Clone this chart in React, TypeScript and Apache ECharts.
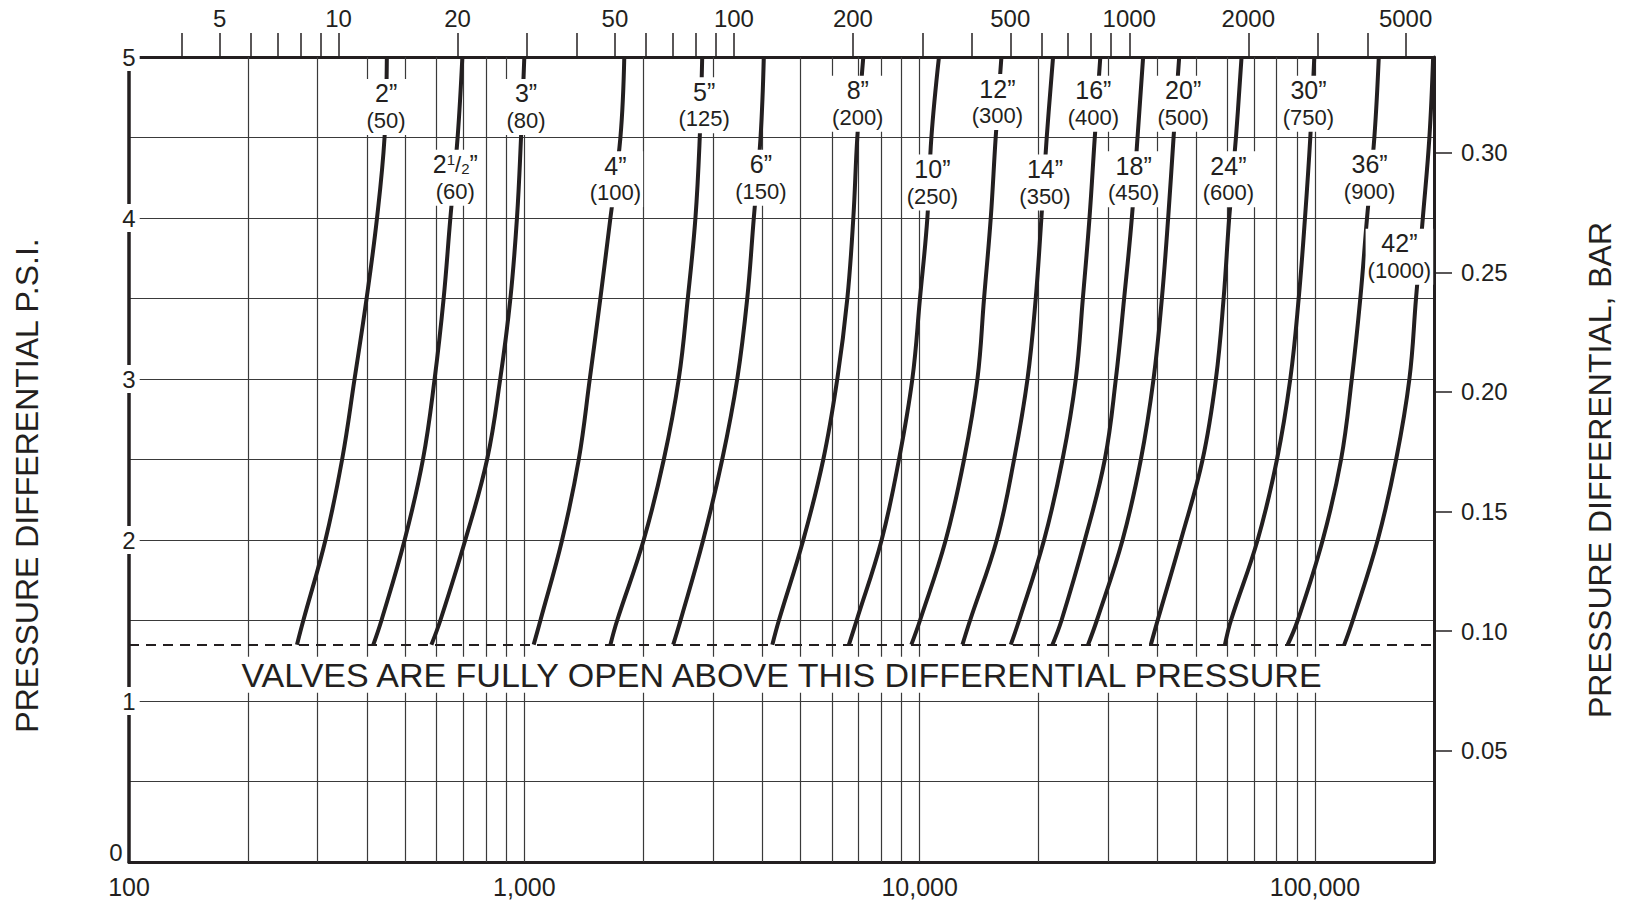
import React, { useEffect, useRef } from 'react';
import * as echarts from 'echarts';

const FONT = '"Liberation Sans", Arial, Helvetica, sans-serif';
const INK = '#231f20';
const GRID_INK = '#3a3a3a';

// Bottom axis range (flow, log scale) and top axis unit ratio
const FLOW_MIN = 100;
const FLOW_MAX = 200000;
const TOP_UNIT_RATIO = 33.9;

// Pressure differential (psi) at which each curve was read
const PSI_POINTS = [5, 4.5, 4, 3.5, 3, 2.5, 2, 1.5, 1.35];

// Flow at PSI_POINTS
const FLOW_2 = [449, 443, 424, 399, 372, 346, 314, 276, 266];
const FLOW_2_5 = [697, 678, 650, 625, 593, 554, 498, 435, 415];
const FLOW_3 = [1000, 981, 958, 922, 869, 805, 709, 613, 582];
const FLOW_4 = [1790, 1750, 1651, 1557, 1464, 1373, 1246, 1098, 1056];
const FLOW_5 = [2818, 2778, 2709, 2591, 2458, 2253, 2004, 1717, 1651];
const FLOW_6 = [4035, 3958, 3806, 3663, 3456, 3166, 2834, 2483, 2380];
const FLOW_8 = [7202, 6954, 6795, 6562, 6189, 5704, 5077, 4404, 4240];
const FLOW_10 = [11190, 10706, 10459, 10018, 9583, 8864, 8013, 6926, 6623];
const FLOW_12 = [16100, 15570, 15130, 14550, 14000, 12950, 11640, 10018, 9528];
const FLOW_14 = [21750, 20960, 20320, 19660, 18740, 17330, 15670, 13410, 12830];
const FLOW_16 = [28640, 27730, 26890, 25870, 24830, 22980, 20640, 17840, 17000];
const FLOW_18 = [36750, 35570, 34410, 32900, 31350, 29400, 26170, 22840, 21670];
const FLOW_20 = [45340, 43880, 42520, 40990, 39050, 36270, 32600, 28060, 26670];
const FLOW_24 = [65200, 63100, 60670, 58730, 56150, 51970, 45790, 39980, 38440];
const FLOW_30 = [99590, 97300, 94340, 90940, 86600, 80130, 71590, 61280, 59180];
const FLOW_36 = [145000, 141300, 135400, 130200, 123900, 116400, 104600, 90400, 85300];
const FLOW_42 = [199000, 194700, 187400, 180100, 173300, 160400, 144100, 124600, 118600];

const VALVE_SIZES = ['2”', '2½”', '3”', '4”', '5”', '6”', '8”', '10”', '12”', '14”', '16”', '18”', '20”', '24”', '30”', '36”', '42”'];
const VALVE_METRIC = ['(50)', '(60)', '(80)', '(100)', '(125)', '(150)', '(200)', '(250)', '(300)', '(350)', '(400)', '(450)', '(500)', '(600)', '(750)', '(900)', '(1000)'];
const VALVE_FLOWS = [FLOW_2, FLOW_2_5, FLOW_3, FLOW_4, FLOW_5, FLOW_6, FLOW_8, FLOW_10, FLOW_12, FLOW_14, FLOW_16, FLOW_18, FLOW_20, FLOW_24, FLOW_30, FLOW_36, FLOW_42];

// Where each size label sits (flow, psi)
const LABEL_FLOW = [447, 669, 1010, 1700, 2850, 3968, 6973, 10770, 15730, 20750, 27500, 34780, 46400, 60390, 96270, 137400, 163500];
const LABEL_PSI = [4.69, 4.25, 4.69, 4.24, 4.7, 4.25, 4.71, 4.22, 4.72, 4.22, 4.71, 4.24, 4.71, 4.24, 4.71, 4.25, 3.76];

// Vertical grid lines on the flow axis
const FLOW_GRID_VALUES = [
  200, 300, 400, 500, 600, 700, 800, 900, 1000,
  2000, 3000, 4000, 5000, 6000, 7000, 8000, 9000, 10000,
  20000, 30000, 40000, 50000, 60000, 70000, 80000, 90000, 100000,
];

// Top axis (other flow unit)
const TOP_TICK_VALUES = [4, 5, 6, 7, 8, 9, 10, 20, 30, 40, 50, 60, 70, 80, 90, 100, 200, 300, 400, 500, 600, 700, 800, 900, 1000, 2000, 3000, 4000, 5000];
const TOP_LABEL_VALUES = [5, 10, 20, 50, 100, 200, 500, 1000, 2000, 5000];

// Left axis (psi) and right axis (bar)
const PSI_TICK_LABELS = [0, 1, 2, 3, 4, 5];
const BAR_TICK_VALUES = [0.05, 0.1, 0.15, 0.2, 0.25, 0.3];
const BAR_AT_PSI_0 = 0.0034;
const BAR_AT_PSI_5 = 0.3401;

const OPEN_PSI = 1.35;
const OPEN_NOTE = 'VALVES ARE FULLY OPEN ABOVE THIS DIFFERENTIAL PRESSURE';

function sizeRich(s: string): string {
  if (s.indexOf('½') >= 0) {
    const [whole, rest] = s.split('½');
    return `{a|${whole}}{s|1}{f|/}{u|2}{a|${rest}}`;
  }
  return `{a|${s}}`;
}

function buildOption(): any {
  const curveSeries = VALVE_FLOWS.map((flows, idx) => {
    const s: any = {
      type: 'line',
      name: VALVE_SIZES[idx],
      xAxisIndex: 0,
      yAxisIndex: 0,
      data: PSI_POINTS.map((p, i) => [flows[i], p]),
      showSymbol: false,
      symbol: 'none',
      smooth: 0.4,
      silent: true,
      z: 3,
      lineStyle: { color: INK, width: 4 },
      emphasis: { disabled: true },
    };
    if (idx === 0) {
      s.markLine = {
        silent: true,
        symbol: ['none', 'none'],
        lineStyle: { type: [10, 7], width: 2.2, color: INK },
        label: {
          show: true,
          position: 'insideMiddleBottom',
          formatter: OPEN_NOTE,
          fontSize: 34,
          lineHeight: 31,
          fontFamily: FONT,
          color: INK,
          backgroundColor: '#fff',
          padding: [3, 8, 2, 8],
          distance: 12,
        },
        emphasis: { disabled: true },
        data: [{ yAxis: OPEN_PSI }],
      };
    }
    return s;
  });

  const gridLines = {
    type: 'lines',
    coordinateSystem: 'cartesian2d',
    xAxisIndex: 0,
    yAxisIndex: 0,
    silent: true,
    z: 1,
    lineStyle: { color: GRID_INK, width: 1.2, opacity: 1 },
    data: FLOW_GRID_VALUES.map((v) => ({ coords: [[v, 0], [v, 5]] })),
  };

  const labelSeries = {
    type: 'scatter',
    xAxisIndex: 0,
    yAxisIndex: 0,
    silent: true,
    z: 4,
    symbolSize: 1,
    itemStyle: { color: 'rgba(0,0,0,0)', opacity: 1 },
    data: VALVE_SIZES.map((size, i) => ({
      value: [LABEL_FLOW[i], LABEL_PSI[i]],
      size,
      metric: VALVE_METRIC[i],
    })),
    label: {
      show: true,
      position: 'inside',
      color: INK,
      opacity: 1,
      fontFamily: FONT,
      backgroundColor: '#fff',
      padding: [1, 2],
      formatter: (p: any) => `${sizeRich(p.data.size)}\n{b|${p.data.metric}}`,
      rich: {
        a: { fontSize: 25, lineHeight: 27, color: INK, fontFamily: FONT },
        f: { fontSize: 22, lineHeight: 27, color: INK, fontFamily: FONT },
        s: { fontSize: 15, lineHeight: 27, color: INK, fontFamily: FONT, padding: [0, 0, 9, 0] },
        u: { fontSize: 15, lineHeight: 27, color: INK, fontFamily: FONT, padding: [9, 0, 0, 0] },
        b: { fontSize: 22, lineHeight: 27, color: INK, fontFamily: FONT },
      },
    },
    emphasis: { disabled: true },
  };

  return {
    animation: false,
    backgroundColor: '#fff',
    textStyle: { fontFamily: FONT, color: INK },
    grid: { left: 129, right: 191, top: 57, bottom: 40, containLabel: false, outerBoundsMode: 'none' },
    xAxis: [
      {
        type: 'log',
        logBase: 10,
        min: FLOW_MIN,
        max: FLOW_MAX,
        position: 'bottom',
        axisLine: { show: true, onZero: false, lineStyle: { color: INK, width: 3 } },
        axisTick: { show: false },
        axisLabel: {
          fontSize: 25,
          color: INK,
          margin: 12,
          showMaxLabel: false,
          formatter: (v: number) => Math.round(v).toLocaleString('en-US'),
        },
        splitLine: { show: false },
      },
      {
        type: 'value',
        position: 'top',
        min: Math.log10(FLOW_MIN / TOP_UNIT_RATIO),
        max: Math.log10(FLOW_MAX / TOP_UNIT_RATIO),
        axisLine: { show: true, onZero: false, lineStyle: { color: INK, width: 3 } },
        axisTick: {
          show: true,
          customValues: TOP_TICK_VALUES.map((v) => Math.log10(v)),
          length: 24,
          lineStyle: { color: INK, width: 1.5 },
        },
        axisLabel: {
          customValues: TOP_LABEL_VALUES.map((v) => Math.log10(v)),
          margin: 27,
          fontSize: 24,
          color: INK,
          formatter: (v: number) => String(Math.round(Math.pow(10, v))),
        },
        splitLine: { show: false },
      },
    ],
    yAxis: [
      {
        type: 'value',
        min: 0,
        max: 5,
        interval: 0.5,
        position: 'left',
        axisLine: { show: true, onZero: false, lineStyle: { color: INK, width: 3.5 } },
        axisTick: { show: false },
        axisLabel: {
          customValues: PSI_TICK_LABELS,
          margin: 0,
          align: 'center',
          fontSize: 24,
          color: INK,
          formatter: (v: number) => (v === 0 ? '{z|0}' : `{n|${v}}`),
          rich: {
            n: { backgroundColor: '#fff', padding: [2, 4], fontSize: 24, color: INK, fontFamily: FONT },
            z: { padding: [0, 26, 20, 0], fontSize: 24, color: INK, fontFamily: FONT },
          },
        },
        splitLine: { show: true, lineStyle: { color: GRID_INK, width: 1.2 } },
        name: 'PRESSURE DIFFERENTIAL P.S.I.',
        nameLocation: 'middle',
        nameRotate: 90,
        nameGap: 86,
        nameTextStyle: { fontSize: 32, color: INK, fontFamily: FONT, padding: [0, 52, 0, 0] },
      },
      {
        type: 'value',
        position: 'right',
        min: BAR_AT_PSI_0,
        max: BAR_AT_PSI_5,
        axisLine: { show: true, onZero: false, lineStyle: { color: INK, width: 3 } },
        axisTick: {
          show: true,
          customValues: BAR_TICK_VALUES,
          length: 18,
          lineStyle: { color: INK, width: 1.5 },
        },
        axisLabel: {
          customValues: BAR_TICK_VALUES,
          margin: 27,
          fontSize: 24,
          color: INK,
          formatter: (v: number) => v.toFixed(2),
        },
        splitLine: { show: false },
        name: 'PRESSURE DIFFERENTIAL, BAR',
        nameLocation: 'middle',
        nameRotate: 90,
        nameGap: 150,
        nameTextStyle: { fontSize: 32, color: INK, fontFamily: FONT, padding: [0, 21, 0, 0] },
      },
    ],
    series: [gridLines, ...curveSeries, labelSeries],
  };
}

export default function App() {
  const ref = useRef<HTMLDivElement>(null);
  useEffect(() => {
    document.body.style.margin = '0';
    const chart = echarts.init(ref.current as HTMLDivElement, null, { renderer: 'svg' });
    chart.setOption(buildOption());
    return () => chart.dispose();
  }, []);
  return <div ref={ref} style={{ width: 1625, height: 902 }} />;
}
